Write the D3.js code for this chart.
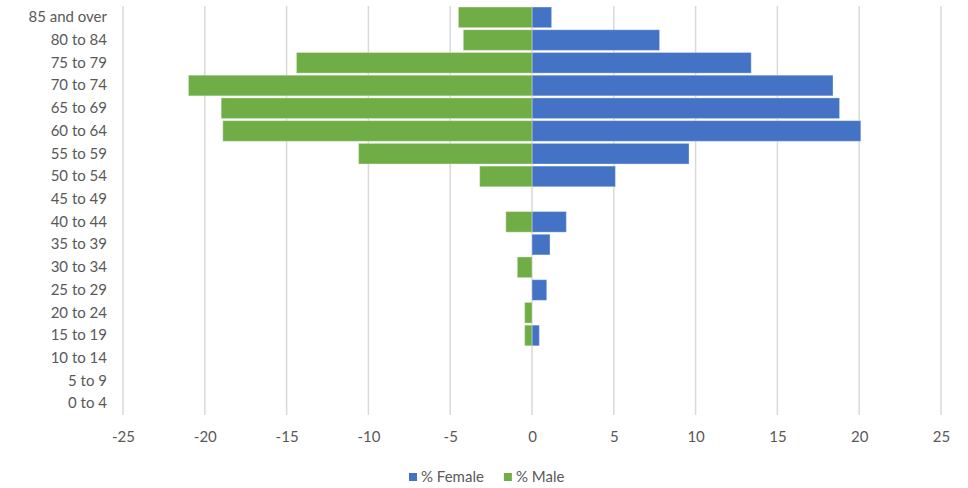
<!DOCTYPE html>
<html>
<head>
<meta charset="utf-8">
<script src="https://cdn.jsdelivr.net/npm/d3@7"></script>
<style>
  body { margin: 0; background: #fff; }
  text { font-family: Lato, "Open Sans", sans-serif; fill: #595959; }
</style>
</head>
<body>
<div id="container"></div>
<script>
var width = 968,
    height = 488,
    margin = { left: 123, top: 6, right: 27, bottom: 73 },
    g_width = width - margin.left - margin.right,
    g_height = height - margin.top - margin.bottom;

// data, top row first
var categories = ['85 and over', '80 to 84', '75 to 79', '70 to 74', '65 to 69', '60 to 64',
    '55 to 59', '50 to 54', '45 to 49', '40 to 44', '35 to 39', '30 to 34', '25 to 29',
    '20 to 24', '15 to 19', '10 to 14', '5 to 9', '0 to 4'];
var female = [1.2, 7.8, 13.4, 18.4, 18.8, 20.1, 9.6, 5.1, 0, 2.1, 1.1, 0, 0.9, 0, 0.45, 0, 0, 0];
var male = [-4.5, -4.2, -14.4, -21.0, -19.0, -18.9, -10.6, -3.2, 0, -1.6, 0, -0.9, 0, -0.45, -0.45, 0, 0, 0];
var x_ticks = [-25, -20, -15, -10, -5, 0, 5, 10, 15, 20, 25];
var series = [
    { name: '% Female', values: female, color: '#4472C4' },
    { name: '% Male', values: male, color: '#70AD47' }
];

var svg = d3.select('#container')
    .append('svg')
    .attr('width', width)
    .attr('height', height)
var g = svg.append('g')
    .attr('transform', 'translate(' + margin.left + ',' + margin.top + ')')

var scale_x = d3.scaleLinear()
    .domain([-25, 25])
    .range([0, g_width])
var scale_y = d3.scaleBand()
    .domain(categories)
    .range([0, g_height])
    .paddingInner(0.09)
    .paddingOuter(0.045)

// gridlines
g.append('g')
    .selectAll('line')
    .data(x_ticks)
    .enter()
    .append('line')
    .attr('x1', function (d) { return scale_x(d); })
    .attr('x2', function (d) { return scale_x(d); })
    .attr('y1', 0)
    .attr('y2', g_height)
    .attr('stroke', '#d9d9d9')
    .attr('stroke-width', 1.5)

// bars
series.forEach(function (s) {
    var rows = s.values.map(function (v, i) { return { cat: categories[i], value: v }; })
        .filter(function (d) { return d.value !== 0; });
    g.append('g')
        .selectAll('rect')
        .data(rows)
        .enter()
        .append('rect')
        .attr('x', function (d) { return scale_x(Math.min(0, d.value)); })
        .attr('width', function (d) { return Math.abs(scale_x(d.value) - scale_x(0)); })
        .attr('y', function (d) { return scale_y(d.cat); })
        .attr('height', scale_y.bandwidth())
        .attr('fill', s.color)
        .attr('stroke', '#fff')
        .attr('stroke-opacity', 0.35)
        .attr('stroke-width', 1)
});

// x axis
var x_axis = d3.axisBottom(scale_x)
    .tickValues(x_ticks)
    .tickFormat(function (d) { return String(d); })
    .tickSize(0)
    .tickPadding(16)
g.append('g')
    .attr('transform', 'translate(0,' + g_height + ')')
    .call(x_axis)
    .call(function (a) { a.select('.domain').remove(); })
    .selectAll('text')
    .style('font-size', '15px')
    .style('font-family', 'Lato, sans-serif')
    .attr('fill', '#595959')

// y axis labels
var y_axis = d3.axisLeft(scale_y)
    .tickSize(0)
    .tickPadding(16)
g.append('g')
    .call(y_axis)
    .call(function (a) { a.select('.domain').remove(); })
    .selectAll('text')
    .style('font-size', '15px')
    .style('font-family', 'Lato, sans-serif')
    .attr('fill', '#595959')

// legend
var legend = svg.append('g')
    .attr('transform', 'translate(409,477)')
var lx = 0;
series.forEach(function (s) {
    var item = legend.append('g').attr('transform', 'translate(' + lx + ',0)')
    item.append('rect')
        .attr('x', 0)
        .attr('y', -4)
        .attr('width', 8)
        .attr('height', 8)
        .attr('fill', s.color)
    var t = item.append('text')
        .attr('x', 12)
        .attr('dy', '0.35em')
        .style('font-size', '15px')
        .text(s.name)
    lx += 12 + t.node().getComputedTextLength() + 20;
});
</script>
</body>
</html>
